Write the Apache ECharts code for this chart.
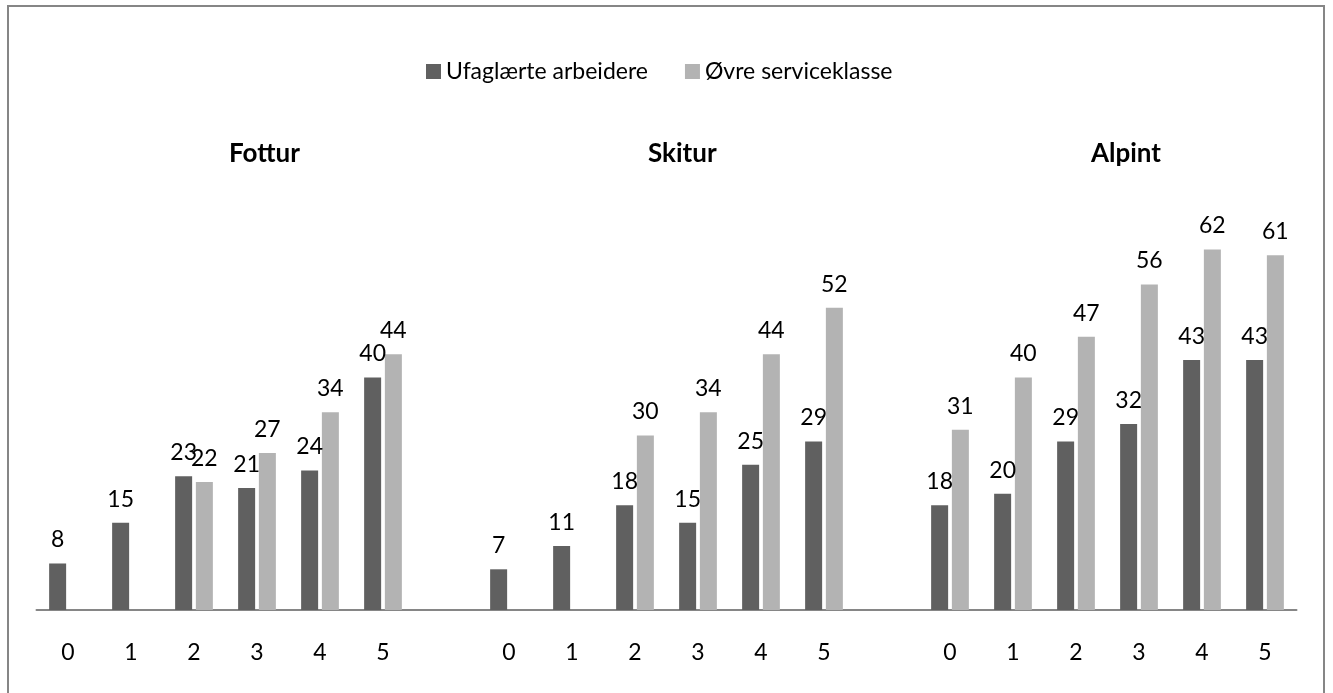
<!DOCTYPE html>
<html>
<head>
<meta charset="utf-8">
<script src="https://cdn.jsdelivr.net/npm/echarts@6/dist/echarts.min.js"></script>
<style>html,body{margin:0;padding:0;background:#fff}#c{width:1333px;height:693px}</style>
</head>
<body>
<div id="c"></div>
<script>
// Categories: three groups (Fottur, Skitur, Alpint) separated by blank slots
const categories = ['0','1','2','3','4','5','', '0','1','2','3','4','5','', '0','1','2','3','4','5'];
const groupTitles = ['Fottur', 'Skitur', 'Alpint'];
const seriesNames = ['Ufaglærte arbeidere', 'Øvre serviceklasse'];
// values per slot (null = no bar)
const ufaglaerte = [8,15,23,21,24,40, null, 7,11,18,15,25,29, null, 18,20,29,32,43,43];
const ovre       = [null,null,22,27,34,44, null, null,null,30,34,44,52, null, 31,40,47,56,62,61];

const FONT = 'Lato';
const chart = echarts.init(document.getElementById('c'), null, {renderer: 'canvas'});
const labelCfg = {show: true, position: 'top', distance: 12, color: '#000', fontFamily: FONT, fontSize: 23};
chart.setOption({
  animation: false,
  textStyle: {fontFamily: FONT},
  graphic: [
    {type: 'rect', shape: {x: 8, y: 6, width: 1316, height: 700}, style: {fill: 'none', stroke: '#868686', lineWidth: 2}, z: -1},
    {type: 'text', left: 229, top: 141, style: {text: groupTitles[0], font: 'bold 26px Lato', fill: '#000'}},
    {type: 'text', left: 648, top: 141, style: {text: groupTitles[1], font: 'bold 26px Lato', fill: '#000'}},
    {type: 'text', left: 1091, top: 141, style: {text: groupTitles[2], font: 'bold 26px Lato', fill: '#000'}}
  ],
  legend: {
    left: 421, top: 55, itemWidth: 15, itemHeight: 15, itemGap: 37,
    icon: 'rect',
    textStyle: {fontFamily: FONT, fontSize: 23, color: '#000'},
    data: seriesNames
  },
  grid: {left: 36.5, right: 36.5, top: 203, bottom: 83},
  xAxis: {
    type: 'category', data: categories,
    axisLine: {lineStyle: {color: '#868686', width: 2}},
    axisTick: {show: false},
    axisLabel: {interval: 0, margin: 31, color: '#000', fontFamily: FONT, fontSize: 23}
  },
  yAxis: {type: 'value', min: 0, max: 70, show: false, splitLine: {show: false}},
  series: [
    {name: seriesNames[0], type: 'bar', data: ufaglaerte, barWidth: 17, barGap: '22%',
     itemStyle: {color: '#606060'}, label: labelCfg},
    {name: seriesNames[1], type: 'bar', data: ovre, barWidth: 17,
     itemStyle: {color: '#b3b3b3'}, label: labelCfg}
  ]
});
</script>
</body>
</html>
